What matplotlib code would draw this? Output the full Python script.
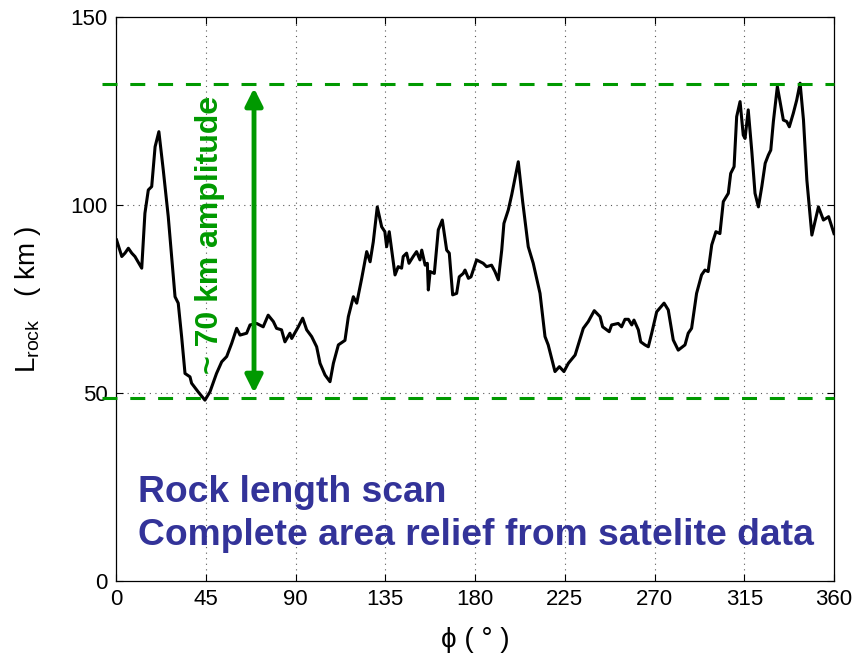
import matplotlib
matplotlib.use("Agg")
import matplotlib.pyplot as plt

plt.rcParams['font.family'] = ['Liberation Sans', 'DejaVu Sans']

phi = [0.3, 2.9, 4.5, 6.2, 7.9, 9.5, 12.9, 14.5, 16.2, 17.9, 19.6, 21.5, 23.7, 26.2, 29.6,
       31.2, 32.9, 34.6, 37.1, 37.9, 41.2, 44.6, 47.1, 50.4, 53.0, 55.5, 58.0, 60.5, 62.2,
       65.5, 67.2, 70.5, 73.8, 76.3, 78.9, 80.5, 83.0, 84.7, 87.2, 88.1, 91.4, 93.6, 95.6,
       98.1, 100.6, 102.3, 104.8, 107.3, 109.0, 111.5, 114.8, 116.5, 119.0, 120.7, 123.2,
       125.7, 127.4, 129.0, 131.0, 133.2, 134.8, 135.7, 137.0, 139.9, 141.5, 143.2, 144.0,
       145.7, 146.9, 149.0, 150.7, 152.4, 153.3, 155.0, 156.1, 156.6, 157.5, 159.6, 161.6,
       163.6, 165.8, 167.1, 168.8, 170.8, 172.1, 174.1, 175.0, 176.7, 178.0, 180.8, 184.1,
       185.8, 188.3, 190.0, 191.7, 193.4, 194.5, 196.7, 198.4, 201.7, 203.9, 206.7, 209.2,
       212.6, 215.1, 216.7, 220.1, 222.3, 224.6, 226.8, 230.2, 234.3, 236.8, 239.8, 242.7,
       244.0, 247.3, 248.5, 251.8, 253.5, 255.2, 256.9, 258.6, 259.7, 261.9, 263.1, 265.2,
       266.9, 268.6, 271.1, 274.8, 276.9, 279.4, 281.9, 285.3, 286.9, 288.6, 291.1, 293.6,
       295.3, 296.9, 298.7, 300.8, 302.8, 304.5, 307.0, 308.2, 309.9, 311.2, 312.9, 314.5,
       315.4, 317.0, 318.8, 320.4, 322.1, 323.8, 325.5, 327.1, 328.3, 329.6, 331.6, 334.6,
       336.3, 337.6, 339.6, 341.3, 343.0, 344.7, 346.4, 348.9, 352.2, 354.7, 357.3, 360.0]

L_rock = [90.7, 86.3, 87.2, 88.5, 87.2, 86.3, 83.2, 97.8, 104.0, 104.9, 115.5, 119.5, 109.3, 96.9, 75.6,
          73.9, 65.0, 55.2, 54.3, 52.6, 50.3, 48.1, 50.3, 55.2, 58.3, 59.7, 63.2, 67.2, 65.4,
          65.9, 68.1, 68.5, 67.6, 70.7, 69.0, 67.2, 66.8, 63.6, 65.9, 64.5, 67.6, 69.9, 66.8,
          65.0, 62.3, 57.9, 54.8, 53.0, 57.9, 62.8, 64.0, 70.3, 75.6, 73.9, 80.5,
          87.6, 84.9, 90.2, 99.5, 94.2, 92.9, 88.9, 92.9, 81.4, 83.6, 83.2, 86.3,
          87.2, 84.5, 86.3, 87.6, 85.4, 88.0, 84.0, 84.5, 77.4, 82.3, 81.8, 93.4,
          96.0, 88.0, 87.2, 76.1, 76.5, 80.9, 81.8, 82.7, 80.5, 80.9, 85.4, 84.5,
          83.6, 84.0, 82.3, 80.1, 88.0, 95.1, 98.7, 102.7, 111.5, 100.9, 88.9, 84.5,
          76.5, 65.0, 62.8, 55.7, 57.0, 55.7, 57.9, 60.1, 67.2, 69.0, 71.9, 70.3,
          67.6, 66.3, 68.1, 68.5, 67.6, 69.6, 69.6, 68.1, 69.4, 66.8, 63.6, 62.8,
          62.3, 65.9, 71.6, 73.9, 72.1, 64.1, 61.4, 62.8, 65.9, 67.2, 76.5, 81.4,
          82.7, 82.3, 89.4, 92.9, 92.4, 100.9, 103.1, 108.4, 110.2, 123.5, 127.5, 118.6,
          117.7, 125.3, 114.2, 103.1, 99.5, 104.9, 111.1, 113.3, 114.6, 122.2, 131.5, 122.6,
          122.2, 120.8, 124.4, 127.9, 132.4, 122.6, 106.6, 92.0, 99.5, 96.0, 96.9, 92.4]

x_ticks = [0, 45, 90, 135, 180, 225, 270, 315, 360]
y_ticks = [0, 50, 100, 150]
upper_level = 132.2
lower_level = 48.7
arrow_phi = 69.2
arrow_top = 131.1
arrow_bottom = 50.0

green = '#009900'
blue = '#333399'

fig = plt.figure(figsize=(8.54, 6.62), dpi=100)
ax = fig.add_axes([116/854, 81/662, 718/854, 564/662])

ax.set_xlim(0, 360)
ax.set_ylim(0, 150)
ax.set_xticks(x_ticks)
ax.set_yticks(y_ticks)
ax.tick_params(direction='in', top=True, right=True, length=5, width=0.8,
               labelsize=16, pad=6)
for s in ax.spines.values():
    s.set_linewidth(0.9)

for xt in x_ticks[1:-1]:
    ax.axvline(xt, color='0.35', lw=0.8, ls=(0, (1, 4)), zorder=1)
for yt in y_ticks[1:-1]:
    ax.axhline(yt, color='0.35', lw=0.8, ls=(0, (1, 4)), zorder=1)

ax.plot(phi, L_rock, color='black', lw=2.2, zorder=3)

for lvl in (upper_level, lower_level):
    ax.plot([-7, 360], [lvl, lvl], color=green, lw=2.2, ls=(0, (4.9, 4.2)),
            clip_on=False, zorder=4)

ax.annotate('', xy=(arrow_phi, arrow_top), xytext=(arrow_phi, arrow_bottom),
            arrowprops=dict(arrowstyle='<|-|>', color=green, lw=3.5,
                            mutation_scale=26, shrinkA=0, shrinkB=0),
            zorder=5)

ax.text(47, 92, '~ 70 km amplitude', rotation=90, ha='center', va='center',
        color=green, fontsize=23, fontweight='bold', zorder=6)

ax.text(11, 21, 'Rock length scan', color=blue, fontsize=26.8, fontweight='bold',
        ha='left', va='baseline')
ax.text(11, 9.6, 'Complete area relief from satelite data', color=blue, fontsize=26.8,
        fontweight='bold', ha='left', va='baseline')

ax.set_ylabel(r'L$_{\mathregular{rock}}$   ( km )', fontsize=20, labelpad=20)
ax.set_xlabel('\u03d5 ( \u00b0 )', fontsize=20, labelpad=12)

fig.savefig('out.png', dpi=100)
